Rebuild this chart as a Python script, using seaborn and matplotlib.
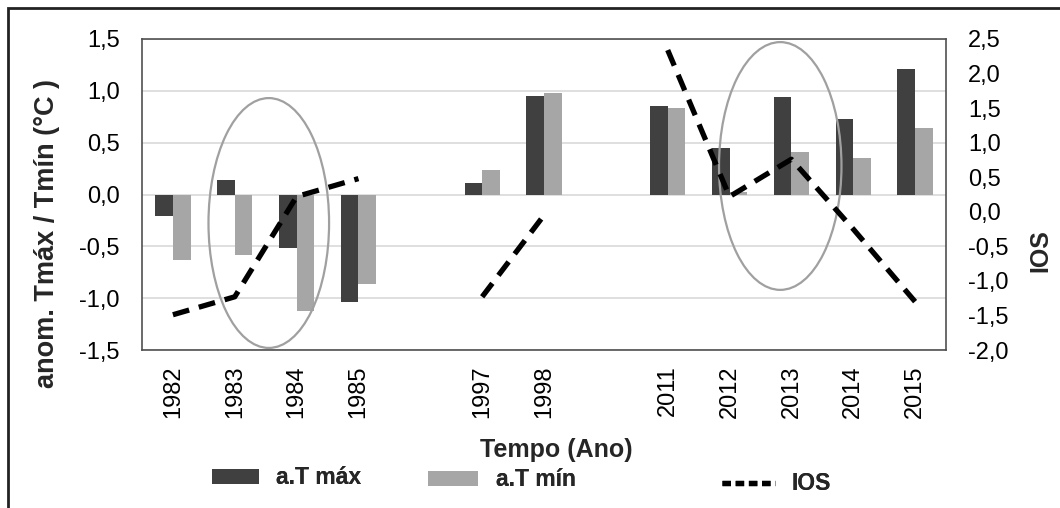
import numpy as np
import pandas as pd
import matplotlib
matplotlib.use("Agg")
import matplotlib.pyplot as plt
import seaborn as sns
from matplotlib.patches import Patch, Ellipse, Rectangle
from matplotlib.lines import Line2D
from matplotlib.ticker import FuncFormatter, MultipleLocator

# ---- data ----
slots = ["1982", "1983", "1984", "1985", " ", "1997", "1998", "  ", "2011", "2012", "2013", "2014", "2015"]
years = ["1982", "1983", "1984", "1985", "1997", "1998", "2011", "2012", "2013", "2014", "2015"]
tmax = [-0.21, 0.14, -0.52, -1.04, 0.11, 0.95, 0.85, 0.45, 0.94, 0.73, 1.21]
tmin = [-0.63, -0.58, -1.12, -0.86, 0.24, 0.98, 0.83, 0.02, 0.41, 0.35, 0.64]
ios = [-1.49, -1.23, 0.22, 0.48, -1.23, -0.05, 2.34, 0.22, 0.76, -0.25, -1.30]
segment = [1, 1, 1, 1, 2, 2, 3, 3, 3, 3, 3]
series = ["a.T máx", "a.T mín"]

DARK = "#404040"
LIGHT = "#a6a6a6"

df = pd.DataFrame({
    "ano": years * 2,
    "valor": tmax + tmin,
    "serie": [series[0]] * len(years) + [series[1]] * len(years),
})
df_ios = pd.DataFrame({
    "pos": [slots.index(y) for y in years],
    "ios": ios,
    "seg": segment,
})

sns.set_theme(style="white")
plt.rcParams["font.family"] = ["Liberation Sans", "DejaVu Sans"]

W, H = 1060, 508
fig = plt.figure(figsize=(W / 100, H / 100), dpi=100)
L, R, T, B = 142, 946, 39, 350
ax = fig.add_axes([L / W, 1 - B / H, (R - L) / W, (B - T) / H])

sns.barplot(data=df, x="ano", y="valor", hue="serie", order=slots, hue_order=series,
            palette=[DARK, LIGHT], saturation=1, width=0.57, gap=0, linewidth=0,
            legend=False, ax=ax, zorder=2)

ax.set_ylim(-1.5, 1.5)
ax.set_xlim(-0.5, len(slots) - 0.5)
ax.yaxis.set_major_locator(MultipleLocator(0.5))
fmt = FuncFormatter(lambda v, p: f"{v:.1f}".replace(".", ","))
ax.yaxis.set_major_formatter(fmt)
ax.grid(axis="y", color="#d9d9d9", linewidth=1.2, zorder=0)
ax.set_axisbelow(True)
for s in ax.spines.values():
    s.set_color("#505050")
    s.set_linewidth(1.2)
ax.tick_params(axis="y", length=0, pad=16, labelsize=17, colors="black")
ax.tick_params(axis="x", length=0, pad=11, labelsize=17, rotation=90, colors="black")
ax.set_xlabel("")
ax.set_ylabel("")

# annotation ellipses
for (cx, cy, w, h) in [(1.55, -0.275, 1.95, 2.41), (9.82, 0.275, 1.98, 2.39)]:
    ax.add_patch(Ellipse((cx, cy), w, h, fill=False, edgecolor="#a0a0a0", linewidth=1.6, zorder=5))

ax2 = ax.twinx()
sns.lineplot(data=df_ios, x="pos", y="ios", units="seg", estimator=None, ax=ax2,
             color="black", linewidth=3.8, legend=False)
for ln in ax2.lines:
    ln.set_dashes((3.2, 1.9))
    ln.set_dash_capstyle("butt")
ax2.set_ylim(-2.0, 2.5)
ax2.yaxis.set_major_locator(MultipleLocator(0.5))
ax2.yaxis.set_major_formatter(fmt)
ax2.tick_params(axis="y", length=0, pad=16, labelsize=17, colors="black")
ax2.set_ylabel("")
ax2.set_xlabel("")
for s in ax2.spines.values():
    s.set_visible(False)
ax.set_xlim(-0.5, len(slots) - 0.5)

# labels
fig.text(47 / W, 1 - 233 / H, "anom. Tmáx / Tmín (°C )", rotation=90, ha="center", va="center",
         fontsize=19.5, fontweight="bold")
fig.text(1040 / W, 1 - 251 / H, "IOS", rotation=90, ha="center", va="center",
         fontsize=18, fontweight="bold")
fig.text(556 / W, 1 - 450 / H, "Tempo (Ano)", ha="center", va="center",
         fontsize=18, fontweight="bold")

# legends
fs = 16.5
h1 = Patch(facecolor=DARK, edgecolor="none")
h2 = Patch(facecolor=LIGHT, edgecolor="none")
h3 = Line2D([], [], color="black", linewidth=3.8, dashes=(1.6, 0.9), dash_capstyle="butt")
for handle, label, x0, y0, hl in [(h1, series[0], 212, 478, 2.05), (h2, series[1], 428, 480, 2.2),
                                 (h3, "IOS", 722, 484, 2.3)]:
    lg = fig.legend([handle], [label], loc="center left", bbox_to_anchor=(x0 / W, 1 - y0 / H),
                    frameon=False, borderpad=0, borderaxespad=0, handlelength=hl,
                    handleheight=0.6, handletextpad=0.75,
                    prop={"size": fs, "weight": "bold"})
    fig.add_artist(lg)

# outer frame (top and left visible)
fig.add_artist(Rectangle((8 / W, -0.1), 1.2, 1 - 8 / H + 0.1, transform=fig.transFigure,
                         fill=False, edgecolor="#222222", linewidth=2))

fig.savefig("out.png", dpi=100, facecolor="white")
